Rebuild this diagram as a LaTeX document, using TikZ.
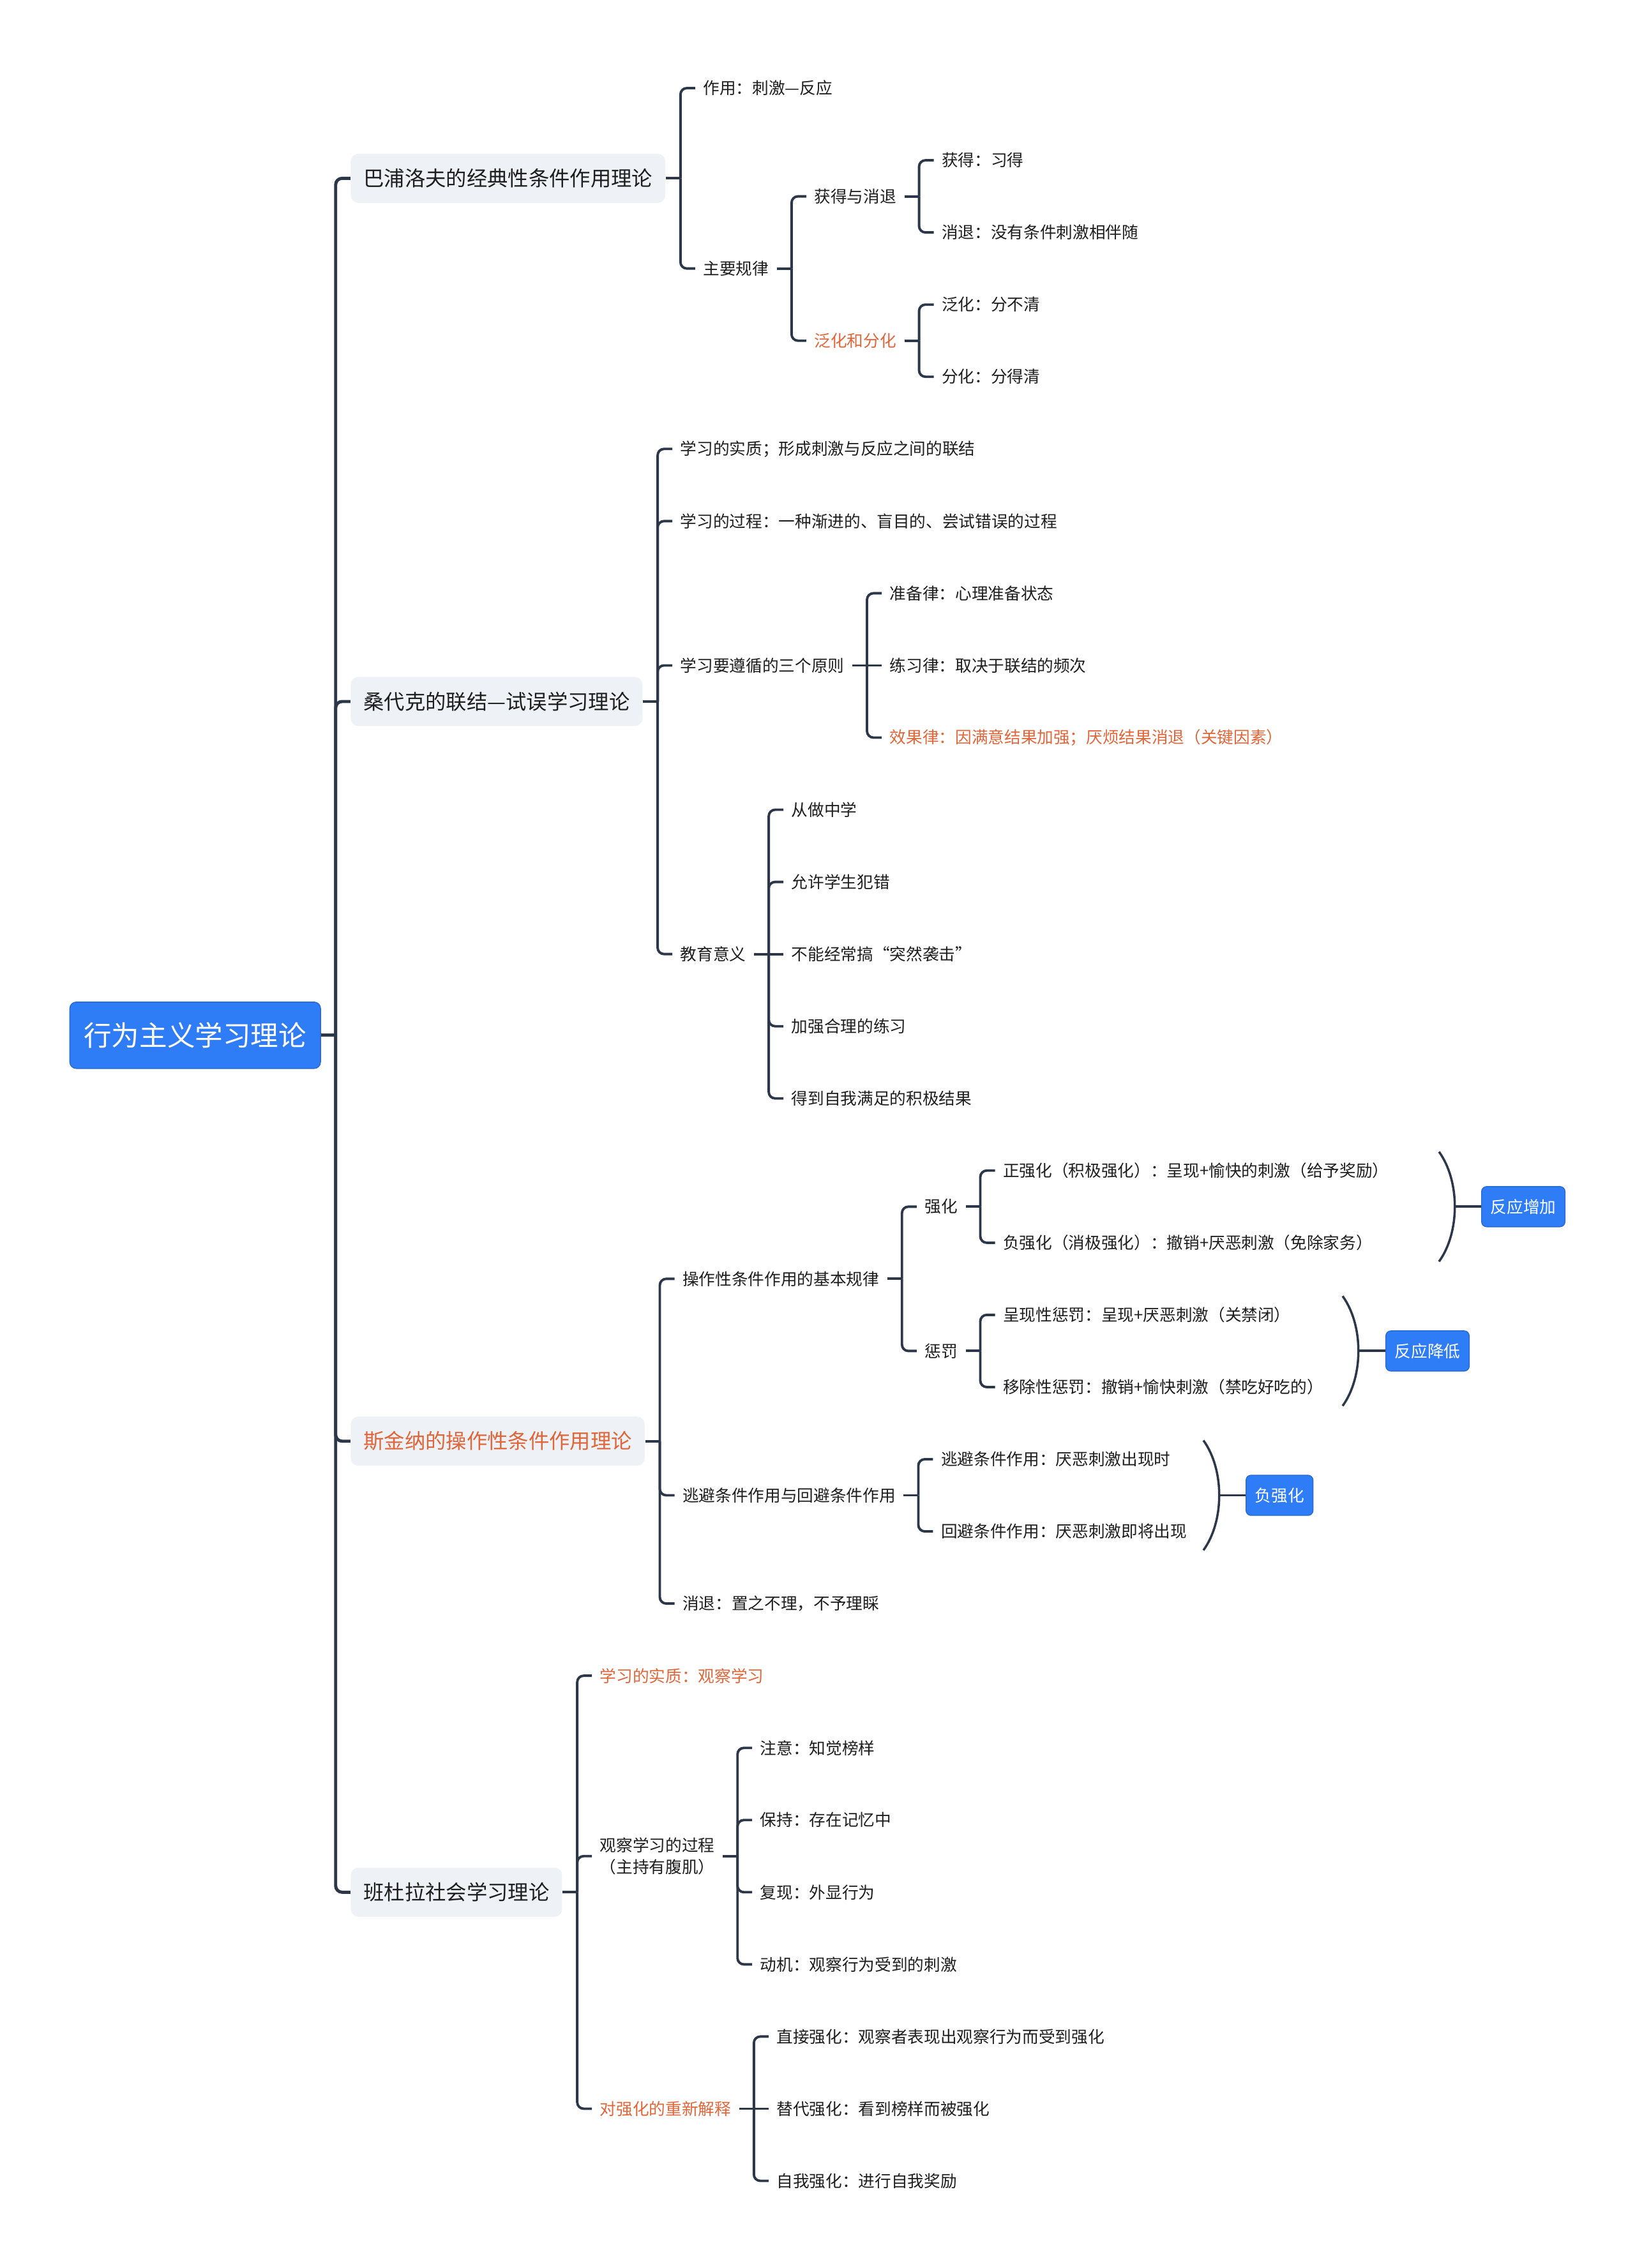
\documentclass[tikz,border=0pt]{standalone}
\usepackage{fontspec}
\setmainfont{Noto Sans CJK SC}
\usetikzlibrary{positioning}
\definecolor{mapblue}{RGB}{47,125,246}
\definecolor{mapgrey}{RGB}{238,241,245}
\definecolor{mapline}{RGB}{44,56,74}
\definecolor{maporange}{RGB}{224,102,58}
\definecolor{mapink}{RGB}{30,30,30}
\newlength{\rowgap}
\setlength{\rowgap}{1.1305cm}
\tikzstyle{mainidea} = [rectangle, rounded corners=0.1cm, minimum height=1.04cm, inner xsep=0.22cm, fill=mapblue, draw=mapblue!85!black, line width=0.4pt, text=white, font=\fontsize{12.4}{15}\selectfont]
\tikzstyle{topic} = [rectangle, rounded corners=0.12cm, minimum height=0.77cm, inner xsep=0.2cm, fill=mapgrey, text=mapink, font=\fontsize{9.2}{11}\selectfont]
\tikzstyle{leaf} = [inner xsep=0.12cm, inner ysep=0.05cm, text=mapink, font=\fontsize{7.3}{9.6}\selectfont]
\tikzstyle{keypt} = [text=maporange]
\tikzstyle{summary} = [rectangle, rounded corners=0.08cm, minimum height=0.63cm, inner xsep=0.14cm, fill=mapblue, draw=mapblue!85!black, line width=0.4pt, text=white, font=\fontsize{7.3}{9.6}\selectfont]
\tikzstyle{branch} = [draw=mapline, line width=1.1pt, rounded corners=0.1cm]
\tikzstyle{trunk} = [branch, line width=1.4pt]
\tikzstyle{brace} = [draw=mapline, line width=1pt]

\begin{document}
\begin{tikzpicture}[node distance=0.46cm]
\useasboundingbox (0,0) rectangle (25.6,-35.53);
\fill [white] (0,0) rectangle (25.6,-35.53);

\node (root) [mainidea, anchor=west] at (1.087,-16.218) {行为主义学习理论};

\node (pav) [topic, right=of root, yshift=11.875\rowgap] {巴浦洛夫的经典性条件作用理论};
\node (thor) [topic, right=of root, yshift=4.625\rowgap] {桑代克的联结—试误学习理论};
\node (skin) [topic, keypt, right=of root, yshift=-5.625\rowgap] {斯金纳的操作性条件作用理论};
\node (band) [topic, right=of root, yshift=-11.875\rowgap] {班杜拉社会学习理论};

\node (pav1) [leaf, right=of pav, yshift=1.25\rowgap] {作用：刺激—反应};
\node (pav2) [leaf, right=of pav, yshift=-1.25\rowgap] {主要规律};
\node (pav21) [leaf, right=of pav2, yshift=\rowgap] {获得与消退};
\node (pav22) [leaf, keypt, right=of pav2, yshift=-\rowgap] {泛化和分化};
\node (pav211) [leaf, right=of pav21, yshift=0.5\rowgap] {获得：习得};
\node (pav212) [leaf, right=of pav21, yshift=-0.5\rowgap] {消退：没有条件刺激相伴随};
\node (pav221) [leaf, right=of pav22, yshift=0.5\rowgap] {泛化：分不清};
\node (pav222) [leaf, right=of pav22, yshift=-0.5\rowgap] {分化：分得清};

\node (thor1) [leaf, right=of thor, yshift=3.5\rowgap] {学习的实质；形成刺激与反应之间的联结};
\node (thor2) [leaf, right=of thor, yshift=2.5\rowgap] {学习的过程：一种渐进的、盲目的、尝试错误的过程};
\node (thor3) [leaf, right=of thor, yshift=0.5\rowgap] {学习要遵循的三个原则};
\node (thor4) [leaf, right=of thor, yshift=-3.5\rowgap] {教育意义};
\node (thor31) [leaf, right=of thor3, yshift=\rowgap] {准备律：心理准备状态};
\node (thor32) [leaf, right=of thor3] {练习律：取决于联结的频次};
\node (thor33) [leaf, keypt, right=of thor3, yshift=-\rowgap] {效果律：因满意结果加强；厌烦结果消退（关键因素）};
\node (thor41) [leaf, right=of thor4, yshift=2\rowgap] {从做中学};
\node (thor42) [leaf, right=of thor4, yshift=\rowgap] {允许学生犯错};
\node (thor43) [leaf, right=of thor4] {不能经常搞“突然袭击”};
\node (thor44) [leaf, right=of thor4, yshift=-\rowgap] {加强合理的练习};
\node (thor45) [leaf, right=of thor4, yshift=-2\rowgap] {得到自我满足的积极结果};

\node (skin1) [leaf, right=of skin, yshift=2.25\rowgap] {操作性条件作用的基本规律};
\node (skin2) [leaf, right=of skin, yshift=-0.75\rowgap] {逃避条件作用与回避条件作用};
\node (skin3) [leaf, right=of skin, yshift=-2.25\rowgap] {消退：置之不理，不予理睬};
\node (skin11) [leaf, right=of skin1, yshift=\rowgap] {强化};
\node (skin12) [leaf, right=of skin1, yshift=-\rowgap] {惩罚};
\node (skin111) [leaf, right=of skin11, yshift=0.5\rowgap] {正强化（积极强化）：呈现+愉快的刺激（给予奖励）};
\node (skin112) [leaf, right=of skin11, yshift=-0.5\rowgap] {负强化（消极强化）：撤销+厌恶刺激（免除家务）};
\node (skin121) [leaf, right=of skin12, yshift=0.5\rowgap] {呈现性惩罚：呈现+厌恶刺激（关禁闭）};
\node (skin122) [leaf, right=of skin12, yshift=-0.5\rowgap] {移除性惩罚：撤销+愉快刺激（禁吃好吃的）};
\node (skin21) [leaf, right=of skin2, yshift=0.5\rowgap] {逃避条件作用：厌恶刺激出现时};
\node (skin22) [leaf, right=of skin2, yshift=-0.5\rowgap] {回避条件作用：厌恶刺激即将出现};

\node (band1) [leaf, keypt, right=of band, yshift=3\rowgap] {学习的实质：观察学习};
\node (band2) [leaf, align=center, right=of band, yshift=0.5\rowgap] {观察学习的过程\\（主持有腹肌）};
\node (band3) [leaf, keypt, right=of band, yshift=-3\rowgap] {对强化的重新解释};
\node (band21) [leaf, right=of band2, yshift=1.5\rowgap] {注意：知觉榜样};
\node (band22) [leaf, right=of band2, yshift=0.5\rowgap] {保持：存在记忆中};
\node (band23) [leaf, right=of band2, yshift=-0.5\rowgap] {复现：外显行为};
\node (band24) [leaf, right=of band2, yshift=-1.5\rowgap] {动机：观察行为受到的刺激};
\node (band31) [leaf, right=of band3, yshift=\rowgap] {直接强化：观察者表现出观察行为而受到强化};
\node (band32) [leaf, right=of band3] {替代强化：看到榜样而被强化};
\node (band33) [leaf, right=of band3, yshift=-\rowgap] {自我强化：进行自我奖励};

\draw [trunk] (root.east) -- ++(0.23,0) coordinate (root-j);
\draw [trunk] (root-j) |- (pav.west);
\draw [trunk] (root-j) |- (thor.west);
\draw [trunk] (root-j) |- (skin.west);
\draw [trunk] (root-j) |- (band.west);

\draw [branch] (pav.east) -- ++(0.23,0) coordinate (pav-j);
\draw [branch] (pav-j) |- (pav1.west);
\draw [branch] (pav-j) |- (pav2.west);
\draw [branch] (pav2.east) -- ++(0.23,0) coordinate (pav2-j);
\draw [branch] (pav2-j) |- (pav21.west);
\draw [branch] (pav2-j) |- (pav22.west);
\draw [branch] (pav21.east) -- ++(0.23,0) coordinate (pav21-j);
\draw [branch] (pav21-j) |- (pav211.west);
\draw [branch] (pav21-j) |- (pav212.west);
\draw [branch] (pav22.east) -- ++(0.23,0) coordinate (pav22-j);
\draw [branch] (pav22-j) |- (pav221.west);
\draw [branch] (pav22-j) |- (pav222.west);

\draw [branch] (thor.east) -- ++(0.23,0) coordinate (thor-j);
\draw [branch] (thor-j) |- (thor1.west);
\draw [branch] (thor-j) |- (thor2.west);
\draw [branch] (thor-j) |- (thor3.west);
\draw [branch] (thor-j) |- (thor4.west);
\draw [branch] (thor3.east) -- ++(0.23,0) coordinate (thor3-j);
\draw [branch] (thor3-j) |- (thor31.west);
\draw [branch] (thor3-j) -- (thor32.west);
\draw [branch] (thor3-j) |- (thor33.west);
\draw [branch] (thor4.east) -- ++(0.23,0) coordinate (thor4-j);
\draw [branch] (thor4-j) |- (thor41.west);
\draw [branch] (thor4-j) |- (thor42.west);
\draw [branch] (thor4-j) -- (thor43.west);
\draw [branch] (thor4-j) |- (thor44.west);
\draw [branch] (thor4-j) |- (thor45.west);

\draw [branch] (skin.east) -- ++(0.23,0) coordinate (skin-j);
\draw [branch] (skin-j) |- (skin1.west);
\draw [branch] (skin-j) |- (skin2.west);
\draw [branch] (skin-j) |- (skin3.west);
\draw [branch] (skin1.east) -- ++(0.23,0) coordinate (skin1-j);
\draw [branch] (skin1-j) |- (skin11.west);
\draw [branch] (skin1-j) |- (skin12.west);
\draw [branch] (skin11.east) -- ++(0.23,0) coordinate (skin11-j);
\draw [branch] (skin11-j) |- (skin111.west);
\draw [branch] (skin11-j) |- (skin112.west);
\draw [branch] (skin12.east) -- ++(0.23,0) coordinate (skin12-j);
\draw [branch] (skin12-j) |- (skin121.west);
\draw [branch] (skin12-j) |- (skin122.west);
\draw [branch] (skin2.east) -- ++(0.23,0) coordinate (skin2-j);
\draw [branch] (skin2-j) |- (skin21.west);
\draw [branch] (skin2-j) |- (skin22.west);

\draw [branch] (band.east) -- ++(0.23,0) coordinate (band-j);
\draw [branch] (band-j) |- (band1.west);
\draw [branch] (band-j) |- (band2.west);
\draw [branch] (band-j) |- (band3.west);
\draw [branch] (band2.east) -- ++(0.23,0) coordinate (band2-j);
\draw [branch] (band2-j) |- (band21.west);
\draw [branch] (band2-j) |- (band22.west);
\draw [branch] (band2-j) |- (band23.west);
\draw [branch] (band2-j) |- (band24.west);
\draw [branch] (band3.east) -- ++(0.23,0) coordinate (band3-j);
\draw [branch] (band3-j) |- (band31.west);
\draw [branch] (band3-j) -- (band32.west);
\draw [branch] (band3-j) |- (band33.west);

\draw [brace] (22.54,-18.043) .. controls (22.87,-18.5) and (22.87,-19.306) .. (22.54,-19.763);
\coordinate (rise-j) at (22.79,-18.903);
\node (rise) [summary, right=0.41cm of rise-j] {反应增加};
\draw [branch] (rise-j) -- (rise.west);

\draw [brace] (21.03,-20.304) .. controls (21.36,-20.761) and (21.36,-21.567) .. (21.03,-22.024);
\coordinate (drop-j) at (21.28,-21.164);
\node (drop) [summary, right=0.42cm of drop-j] {反应降低};
\draw [branch] (drop-j) -- (drop.west);

\draw [brace] (18.85,-22.565) .. controls (19.18,-23.022) and (19.18,-23.828) .. (18.85,-24.285);
\coordinate (neg-j) at (19.10,-23.425);
\node (neg) [summary, right=0.41cm of neg-j] {负强化};
\draw [branch] (neg-j) -- (neg.west);

\end{tikzpicture}
\end{document}
